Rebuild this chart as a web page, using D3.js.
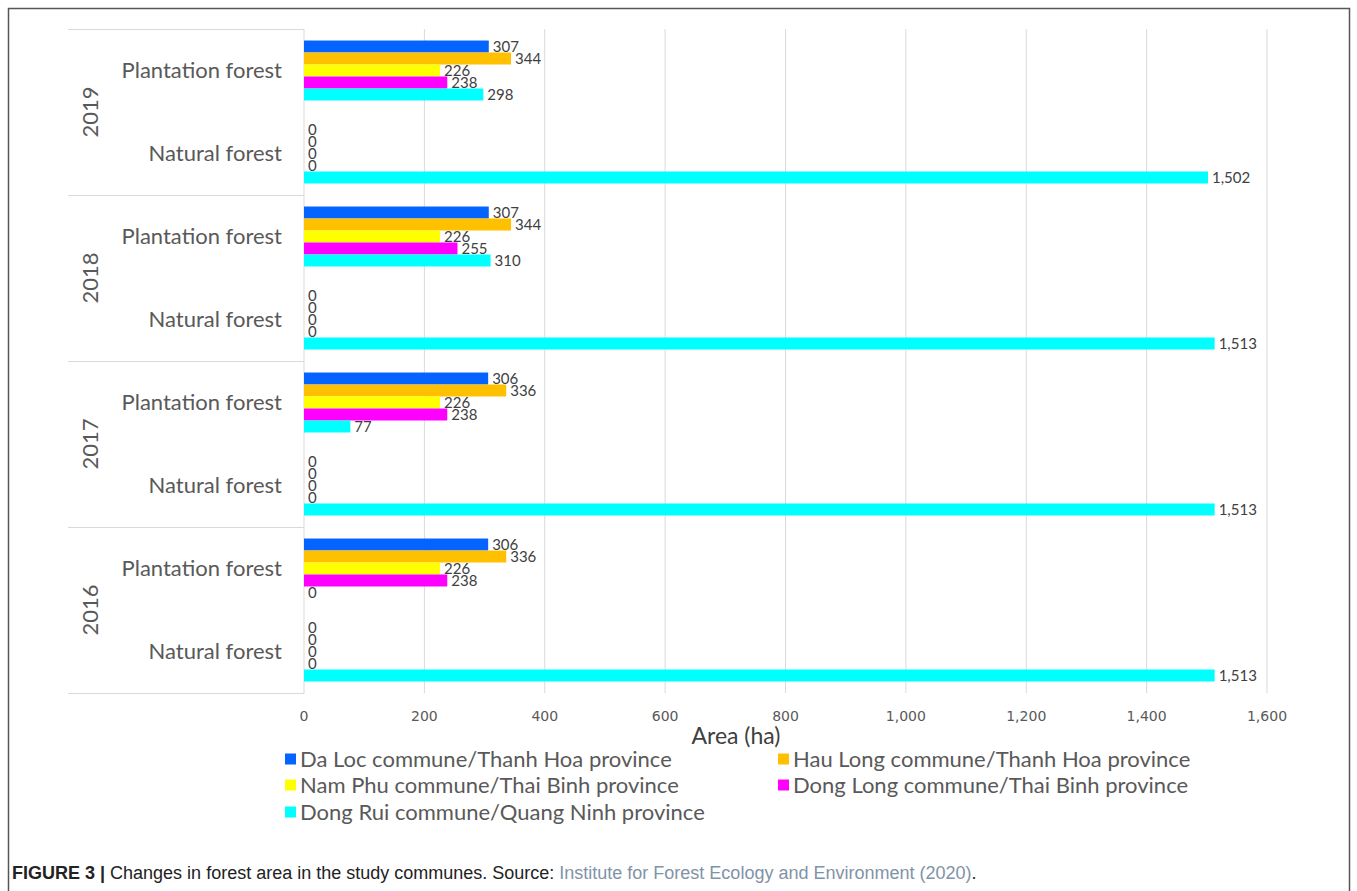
<!DOCTYPE html>
<html>
<head>
<meta charset="utf-8">
<script src="https://cdn.jsdelivr.net/npm/d3@7"></script>
<style>
  body { margin: 0; background: #fff; }
  svg { display: block; }
</style>
</head>
<body>
<svg id="chart" width="1357" height="891"></svg>
<script>
// ---- data ----
const years = ["2019", "2018", "2017", "2016"];
const categories = ["Plantation forest", "Natural forest"];
const seriesNames = [
  "Da Loc commune/Thanh Hoa province",
  "Hau Long commune/Thanh Hoa province",
  "Nam Phu commune/Thai Binh province",
  "Dong Long commune/Thai Binh province",
  "Dong Rui commune/Quang Ninh province"
];
const seriesColors = ["#0563FF", "#FFC000", "#FFFF00", "#FF00FF", "#00FFFF"];
// values ordered: 2019 Plantation, 2019 Natural, 2018 Plantation, 2018 Natural, ... 2016 Natural
const daLoc    = [307, 0, 307, 0, 306, 0, 306, 0];
const hauLong  = [344, 0, 344, 0, 336, 0, 336, 0];
const namPhu   = [226, 0, 226, 0, 226, 0, 226, 0];
const dongLong = [238, 0, 255, 0, 238, 0, 238, 0];
const dongRui  = [298, 1502, 310, 1513, 77, 1513, 0, 1513];
const seriesValues = [daLoc, hauLong, namPhu, dongLong, dongRui];
const xTicks = [0, 200, 400, 600, 800, 1000, 1200, 1400, 1600];

// ---- layout ----
const svg = d3.select("#chart");
const plotLeft = 304, plotRight = 1267, plotTop = 29, plotBottom = 693;
const textColor = "#595959";

const x = d3.scaleLinear().domain([0, 1600]).range([plotLeft, plotRight]);
const yYear = d3.scaleBand().domain(years).range([plotTop, plotBottom]).padding(0);
const yCat = d3.scaleBand().domain(categories).range([0, yYear.bandwidth()]).padding(0);
const ySer = d3.scaleBand().domain(seriesNames).range([0, yCat.bandwidth()])
  .paddingInner(0).paddingOuter(0.96);

// outer frame
svg.append("rect").attr("x", 8.5).attr("y", 8.5).attr("width", 1341).attr("height", 900)
  .attr("fill", "none").attr("stroke", "#555").attr("stroke-width", 1.5);

// gridlines
svg.append("g").selectAll("line").data(xTicks.filter(d => d > 0)).join("line")
  .attr("x1", d => x(d)).attr("x2", d => x(d))
  .attr("y1", plotTop).attr("y2", plotBottom)
  .attr("stroke", "#d9d9d9").attr("stroke-width", 1);

// category axis line
svg.append("line").attr("x1", plotLeft).attr("x2", plotLeft)
  .attr("y1", plotTop).attr("y2", plotBottom + 1)
  .attr("stroke", "#d9d9d9").attr("stroke-width", 1);

// year separators
const seps = years.map(y => yYear(y)).concat([plotBottom]);
svg.append("g").selectAll("line").data(seps).join("line")
  .attr("x1", 68).attr("x2", plotLeft)
  .attr("y1", d => d + 0.5).attr("y2", d => d + 0.5)
  .attr("stroke", "#d9d9d9").attr("stroke-width", 1);

// year labels
svg.append("g").selectAll("text").data(years).join("text")
  .attr("transform", d => `translate(98,${yYear(d) + yYear.bandwidth() / 2}) rotate(-90)`)
  .attr("text-anchor", "middle")
  .attr("font-family", "Lato, sans-serif").attr("font-size", 22)
  .attr("fill", textColor).text(d => d);

// category labels
const catData = [];
years.forEach(y => categories.forEach(c => catData.push({ y, c })));
svg.append("g").selectAll("text").data(catData).join("text")
  .attr("x", 282)
  .attr("y", d => yYear(d.y) + yCat(d.c) + yCat.bandwidth() / 2)
  .attr("dy", "0.35em")
  .attr("text-anchor", "end")
  .attr("font-family", "Lato, sans-serif").attr("font-size", 22)
  .attr("fill", textColor).text(d => d.c);

// bars
const barData = [];
seriesNames.forEach((s, si) => {
  catData.forEach((g, gi) => {
    barData.push({ s, si, y: g.y, c: g.c, v: seriesValues[si][gi] });
  });
});
const barY = d => yYear(d.y) + yCat(d.c) + ySer(d.s);

svg.append("g").selectAll("rect").data(barData).join("rect")
  .attr("x", x(0))
  .attr("y", barY)
  .attr("width", d => x(d.v) - x(0))
  .attr("height", ySer.bandwidth())
  .attr("fill", d => seriesColors[d.si]);

// value labels
const fmt = d3.format(",");
svg.append("g").selectAll("text").data(barData).join("text")
  .attr("x", d => x(d.v) + 4)
  .attr("y", d => barY(d) + ySer.bandwidth() / 2)
  .attr("dy", "0.35em")
  .attr("font-family", "Lato, sans-serif").attr("font-size", 15)
  .attr("fill", "#404040").text(d => fmt(d.v));

// x tick labels
svg.append("g").selectAll("text").data(xTicks).join("text")
  .attr("x", d => x(d)).attr("y", 716).attr("dy", "0.35em")
  .attr("text-anchor", "middle")
  .attr("font-family", "DejaVu Sans, sans-serif").attr("font-size", 14)
  .attr("fill", textColor).text(d => fmt(d));

// axis title
svg.append("text").attr("x", 736).attr("y", 736).attr("dy", "0.35em")
  .attr("text-anchor", "middle")
  .attr("font-family", "Lato, sans-serif").attr("font-size", 23)
  .attr("fill", "#404040").text("Area (ha)");

// legend
const legendPos = [
  [285, 759], [778, 759],
  [285, 785], [778, 785],
  [285, 812]
];
const lg = svg.append("g").selectAll("g").data(seriesNames).join("g")
  .attr("transform", (d, i) => `translate(${legendPos[i][0]},${legendPos[i][1]})`);
lg.append("rect").attr("x", 0).attr("y", -5.5).attr("width", 11).attr("height", 11)
  .attr("fill", (d, i) => seriesColors[i]);
lg.append("text").attr("x", 15).attr("y", 0).attr("dy", "0.35em")
  .attr("font-family", "Lato, sans-serif").attr("font-size", 22)
  .attr("fill", textColor).text(d => d);

// caption
const cap = svg.append("text").attr("x", 12).attr("y", 879)
  .attr("font-family", "Liberation Sans, Arial, sans-serif").attr("font-size", 18)
  .attr("fill", "#222");
cap.append("tspan").attr("font-weight", "bold").text("FIGURE 3 | ");
cap.append("tspan").text("Changes in forest area in the study communes. Source: ");
cap.append("tspan").attr("fill", "#7f93a8").text("Institute for Forest Ecology and Environment (2020)");
cap.append("tspan").text(".");
</script>
</body>
</html>
